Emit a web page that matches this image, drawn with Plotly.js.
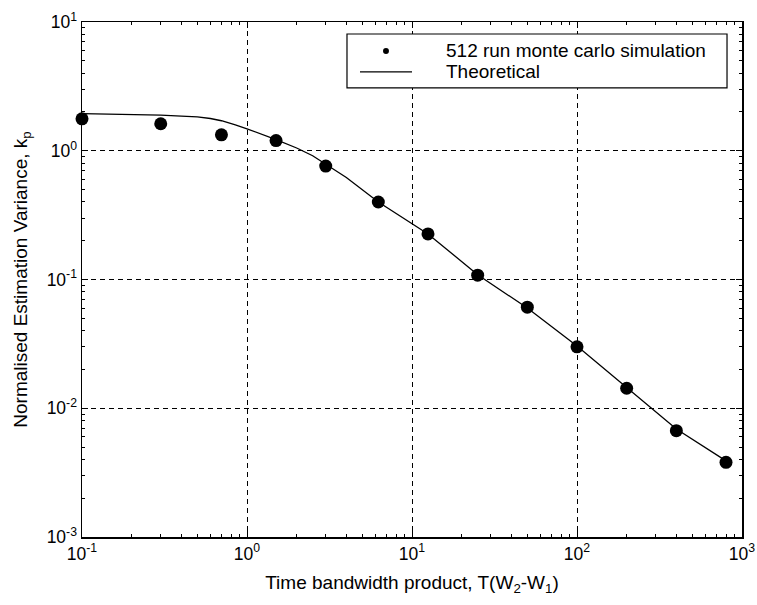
<!DOCTYPE html>
<html>
<head>
<meta charset="utf-8">
<script src="https://cdn.plot.ly/plotly-3.0.1.min.js"></script>
<style>html,body{margin:0;padding:0;background:#fff;}#chart{width:757px;height:605px;}</style>
</head>
<body>
<div id="chart"></div>
<script>
// Monte Carlo simulation points (512 runs)
var simT = [0.1, 0.3, 0.7, 1.5, 3, 6.25, 12.5, 25, 50, 100, 200, 400, 800];
var simK = [1.77, 1.62, 1.33, 1.2, 0.76, 0.40, 0.226, 0.108, 0.061, 0.030, 0.0143, 0.0067, 0.0038];

// Theoretical curve
var theoT = [0.1, 0.2, 0.3, 0.4, 0.5, 0.6, 0.7, 0.85, 1, 1.5, 2, 2.5, 3, 4, 6.25, 12.5, 25, 50, 100, 200, 400, 800];
var theoK = [1.94, 1.92, 1.89, 1.86, 1.83, 1.78, 1.71, 1.59, 1.48, 1.22, 1.05, 0.915, 0.79, 0.62, 0.40, 0.226, 0.109, 0.060, 0.0304, 0.0146, 0.0069, 0.0039];

var seriesNames = ['512 run monte carlo simulation', 'Theoretical'];

var xTickVals = [0.1, 1, 10, 100, 1000];
var xTickText = ['10<sup>-1</sup>', '10<sup>0</sup>', '10<sup>1</sup>', '10<sup>2</sup>', '10<sup>3</sup>'];
var yTickVals = [0.001, 0.01, 0.1, 1, 10];
var yTickText = ['10<sup>-3</sup>', '10<sup>-2</sup>', '10<sup>-1</sup>', '10<sup>0</sup>', '10<sup>1</sup>'];

var FONT = 'Liberation Sans, Arial, Helvetica, sans-serif';

var traces = [
  {x: simT, y: simK, type: 'scatter', mode: 'markers', name: seriesNames[0], showlegend: false,
   marker: {color: '#000', size: 13, symbol: 'circle'}, cliponaxis: false},
  {x: theoT, y: theoK, type: 'scatter', mode: 'lines', name: seriesNames[1], showlegend: false,
   line: {color: '#000', width: 1.3}}
];

var axisCommon = {
  type: 'log', showline: true, linecolor: '#000', linewidth: 1.5, mirror: 'allticks',
  ticks: 'inside', ticklen: 6, tickcolor: '#000', tickmode: 'array',
  showgrid: true, gridcolor: '#000', gridwidth: 1, griddash: '5px,4px',
  zeroline: false, tickfont: {family: FONT, size: 17.5, color: '#000'},
  minor: {ticks: 'inside', ticklen: 3, tickcolor: '#000', dtick: 'D1', showgrid: false}
};

// legend box drawn in paper coordinates
var LG = {x0: 0.4015, x1: 0.9773, y0: 0.872, y1: 0.9767, row1: 0.9437, row2: 0.903,
          symX: 0.4606, lineX0: 0.4212, lineX1: 0.5, textX: 0.549};

var layout = {
  width: 757, height: 605,
  margin: {l: 82, r: 15, t: 22, b: 68},
  paper_bgcolor: '#fff', plot_bgcolor: '#fff',
  font: {family: FONT, color: '#000'},
  showlegend: false,
  xaxis: Object.assign({}, axisCommon, {
    range: [-1, 3], tickvals: xTickVals, ticktext: xTickText,
    title: {text: 'Time bandwidth product, T(W<sub>2</sub>-W<sub>1</sub>)', font: {family: FONT, size: 19, color: '#000'}, standoff: 13}
  }),
  yaxis: Object.assign({}, axisCommon, {
    range: [-3, 1], tickvals: yTickVals, ticktext: yTickText,
    title: {text: 'Normalised Estimation Variance, k<sub>p</sub>', font: {family: FONT, size: 19, color: '#000'}, standoff: 14}
  }),
  shapes: [
    {type: 'rect', xref: 'paper', yref: 'paper', x0: LG.x0, x1: LG.x1, y0: LG.y0, y1: LG.y1,
     line: {color: '#000', width: 1.2}, fillcolor: '#fff', layer: 'above'},
    {type: 'circle', xref: 'paper', yref: 'paper', x0: LG.symX - 0.0045, x1: LG.symX + 0.0045,
     y0: LG.row1 - 0.0058, y1: LG.row1 + 0.0058, line: {color: '#000', width: 0}, fillcolor: '#000', layer: 'above'},
    {type: 'line', xref: 'paper', yref: 'paper', x0: LG.lineX0, x1: LG.lineX1, y0: LG.row2, y1: LG.row2,
     line: {color: '#000', width: 1.3}, layer: 'above'}
  ],
  annotations: [
    {xref: 'paper', yref: 'paper', x: LG.textX, y: LG.row1, xanchor: 'left', yanchor: 'middle',
     text: seriesNames[0], showarrow: false, font: {family: FONT, size: 19, color: '#000'}},
    {xref: 'paper', yref: 'paper', x: LG.textX, y: LG.row2, xanchor: 'left', yanchor: 'middle',
     text: seriesNames[1], showarrow: false, font: {family: FONT, size: 19, color: '#000'}}
  ]
};

Plotly.newPlot('chart', traces, layout, {staticPlot: true});
</script>
</body>
</html>
